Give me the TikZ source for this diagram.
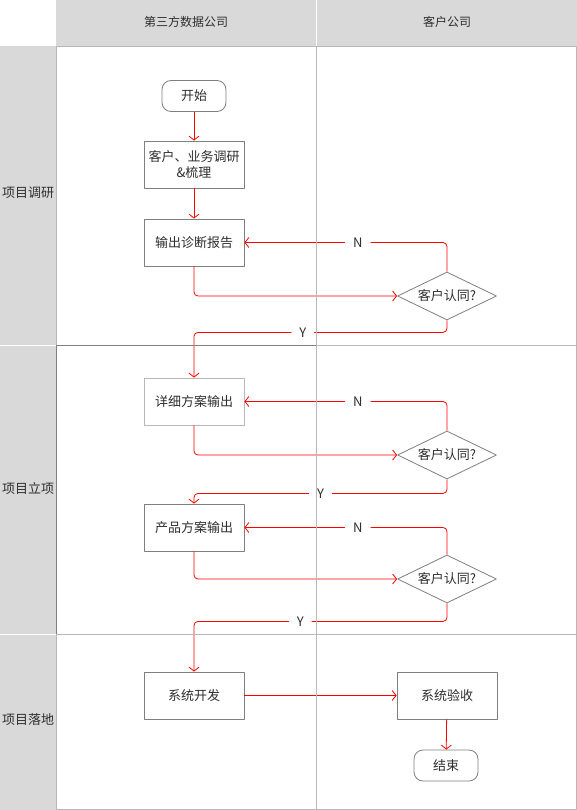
\documentclass[tikz,border=0pt]{standalone}
\usepackage{fontspec}
\newfontfamily\cjk{Noto Sans CJK SC}
\usetikzlibrary{arrows.meta}
\usetikzlibrary{shapes.geometric}

\definecolor{lanegray}{HTML}{D9D9D9}
\definecolor{gridgray}{HTML}{B8B8B8}
\definecolor{boxgray}{HTML}{7F7F7F}
\definecolor{txtgray}{HTML}{2E2E2E}

\begin{document}
\begin{tikzpicture}[
  x=1pt, y=-1pt,
  line join=round,
  >={Straight Barb[length=4pt,width=10pt]},
  every node/.style={font=\cjk\fontsize{13}{16}\selectfont, text=txtgray},
  headtext/.style={font=\cjk\fontsize{12}{15}\selectfont},
  stepbox/.style={draw=boxgray, line width=0.8pt, fill=white, minimum width=100pt, minimum height=47pt, align=center, inner sep=2pt},
  termbox/.style={draw=boxgray, line width=0.8pt, fill=white, rounded corners=9pt, minimum width=64pt, minimum height=31pt},
  askbox/.style={diamond, draw=boxgray, line width=0.8pt, fill=white, shape aspect=2, inner sep=0pt, minimum width=99pt, minimum height=48pt},
  flow/.style={->, red, line width=0.8pt, rounded corners=4pt},
  lbl/.style={fill=white, inner xsep=8pt, inner ysep=1pt}
]

\useasboundingbox (0,0) rectangle (577,810);

% lanes
\fill [lanegray] (56,0) rectangle (577,46);
\fill [lanegray] (0,46) rectangle (56,810);
\draw [white, line width=1pt] (316,0) -- (316,46);
\draw [white, line width=1pt] (0,345) -- (56,345);
\draw [white, line width=1pt] (0,634) -- (56,634);

\node [headtext] (hdA) at (186,22) {第三方数据公司};
\node [headtext] (hdB) at (447,22) {客户公司};
\node (rowA) at (28,193) {项目调研};
\node (rowB) at (28,489) {项目立项};
\node (rowC) at (28,720) {项目落地};

% steps
\node [termbox] (start) at (194,96) {开始};
\node [stepbox] (survey) at (194,164.5) {客户、业务调研\\\&梳理};
\node [stepbox] (report) at (194,242.5) {输出诊断报告};
\node [askbox] (ask1) at (447,296) {客户认同?};
\node [stepbox, draw=gridgray] (detail) at (194,401.5) {详细方案输出};
\node [askbox] (ask2) at (447,455) {客户认同?};
\node [stepbox] (product) at (194,527.5) {产品方案输出};
\node [askbox] (ask3) at (447,579) {客户认同?};
\node [stepbox] (develop) at (194,695.5) {系统开发};
\node [stepbox] (accept) at (447,695.5) {系统验收};
\node [termbox] (finish) at (446,765.5) {结束};

% connectors
\draw [flow] (start) -- (survey);
\draw [flow] (survey) -- (report);
\draw [flow] (report.south) |- (ask1.west);
\draw [flow] (ask1.north) |- node [lbl, pos=0.72] (no1) {N} (report.east);
\draw [flow] (ask1.south) -- ++(0,12) -| node [lbl, pos=0.285] (yes1) {Y} (detail.north);

\draw [flow] (detail.south) |- (ask2.west);
\draw [flow] (ask2.north) |- node [lbl, pos=0.72] (no2) {N} (detail.east);
\draw [flow] (ask2.south) -- ++(0,14) -| node [lbl, pos=0.25] (yes2) {Y} (product.north);

\draw [flow] (product.south) |- (ask3.west);
\draw [flow] (ask3.north) |- node [lbl, pos=0.72] (no3) {N} (product.east);
\draw [flow] (ask3.south) -- ++(0,18) -| node [lbl, pos=0.29] (yes3) {Y} (develop.north);

\draw [flow] (develop) -- (accept);
\draw [flow] (accept) -- (finish);

% grid on top
\draw [gridgray, line width=0.8pt] (56,46) rectangle (576,809.5);
\draw [gridgray, line width=0.8pt] (316,46) -- (316,809.5);
\draw [gridgray, line width=0.8pt] (316,345) -- (576,345);
\draw [gridgray, line width=0.8pt] (56,634) -- (576,634);
\draw [boxgray, line width=0.8pt] (56,345) -- (316,345);
\draw [boxgray, line width=0.8pt] (56,345) -- (56,634);

\end{tikzpicture}
\end{document}
